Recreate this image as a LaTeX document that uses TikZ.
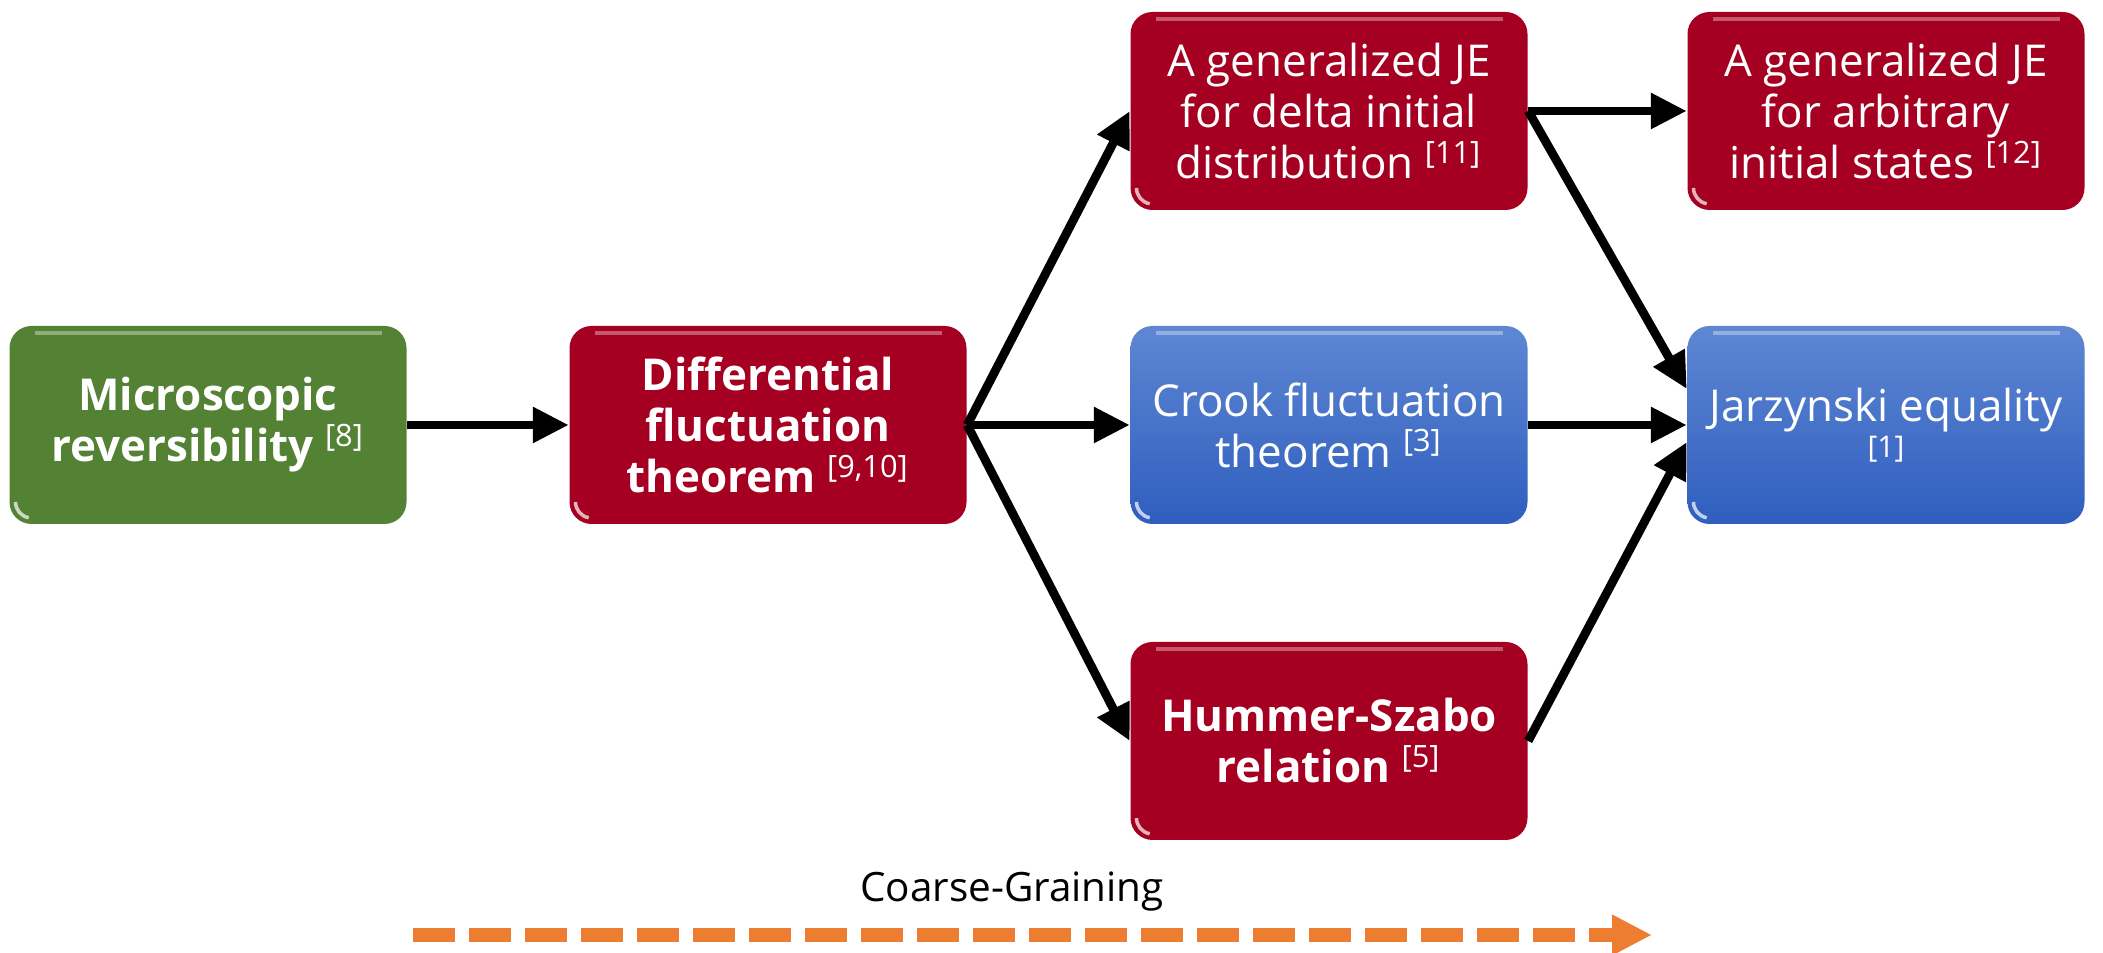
\documentclass[tikz,border=0pt]{standalone}
\usepackage{fontspec}
\setmainfont{Open Sans}
\usepackage{xcolor}
\usepackage{tikz}
\usetikzlibrary{arrows.meta, positioning, calc}

\definecolor{boxred}{HTML}{A50021}
\definecolor{boxgreen}{HTML}{548235}
\definecolor{bluetop}{HTML}{5E87D3}
\definecolor{bluebot}{HTML}{2F5EBE}
\definecolor{cgorange}{HTML}{ED7D31}

\begin{document}
\begin{tikzpicture}[
    box/.style={rectangle, rounded corners=0.22cm, minimum width=3.97cm, minimum height=1.98cm,
        inner sep=0pt, text=white, align=center, font=\fontsize{12.5}{14.5}\selectfont,
        path picture={
            \draw[white, opacity=0.35, line width=1.3pt]
                ([xshift=0.25cm, yshift=-0.07cm]path picture bounding box.north west) --
                ([xshift=-0.25cm, yshift=-0.07cm]path picture bounding box.north east);
            \draw[white, opacity=0.7, line width=1pt]
                ([shift={(0.06cm,0.22cm)}]path picture bounding box.south west) arc (180:260:0.16cm);
        }},
    boldtxt/.style={font=\fontsize{12.5}{14.5}\selectfont\bfseries},
    redbox/.style={box, fill=boxred},
    greenbox/.style={box, fill=boxgreen},
    bluebox/.style={box, top color=bluetop, bottom color=bluebot},
    flow/.style={line width=2.5pt, -{Triangle[length=0.36cm, width=0.34cm]}},
    cgarrow/.style={line width=0.14cm, cgorange, dash pattern=on 0.42cm off 0.14cm,
        -{Triangle[length=0.4cm, width=0.38cm]}},
]
    \useasboundingbox (0, 0) rectangle (21.03, 9.53);

    % 第一列、第二列
    \node[greenbox, boldtxt] (micro) at (2.08, 5.28)
        {Microscopic\\ reversibility \textsuperscript{\mdseries[8]}};
    \node[redbox, boldtxt] (diff) at (7.68, 5.28)
        {Differential\\ fluctuation\\ theorem \textsuperscript{\mdseries[9,10]}};

    % 中间一列
    \node[redbox] (delta) at (13.29, 8.42)
        {A generalized JE\\ for delta initial\\ distribution \textsuperscript{[11]}};
    \node[bluebox] (crook) at (13.29, 5.28)
        {Crook fluctuation\\ theorem \textsuperscript{[3]}};
    \node[redbox, boldtxt] (hummer) at (13.29, 2.12)
        {Hummer-Szabo\\ relation \textsuperscript{\mdseries[5]}};

    % 右列
    \node[redbox] (arb) at (18.86, 8.42)
        {A generalized JE\\ for arbitrary\\ initial states \textsuperscript{[12]}};
    \node[bluebox] (jarz) at (18.86, 5.28)
        {Jarzynski equality\\[-4.3pt]{\fontsize{8.5}{8.5}\selectfont[1]}};

    % 箭头
    \draw[flow] (micro.east) -- (diff.west);
    \draw[flow] (diff.east) -- (delta.west);
    \draw[flow] (diff.east) -- (crook.west);
    \draw[flow] (diff.east) -- (hummer.west);
    \draw[flow] (delta.east) -- (arb.west);
    \draw[flow] (delta.east) -- ([yshift=0.36cm]jarz.west);
    \draw[flow] (crook.east) -- (jarz.west);
    \draw[flow] (hummer.east) -- ([yshift=-0.17cm]jarz.west);

    % 粗粒化
    \node[font=\fontsize{11.5}{13}\selectfont] (cg) at (10.12, 0.61) {Coarse-Graining};
    \coordinate (cgs) at (4.13, 0.18);
    \coordinate (cge) at (16.52, 0.18);
    \draw[cgarrow] (cgs) -- (cge);
\end{tikzpicture}
\end{document}
